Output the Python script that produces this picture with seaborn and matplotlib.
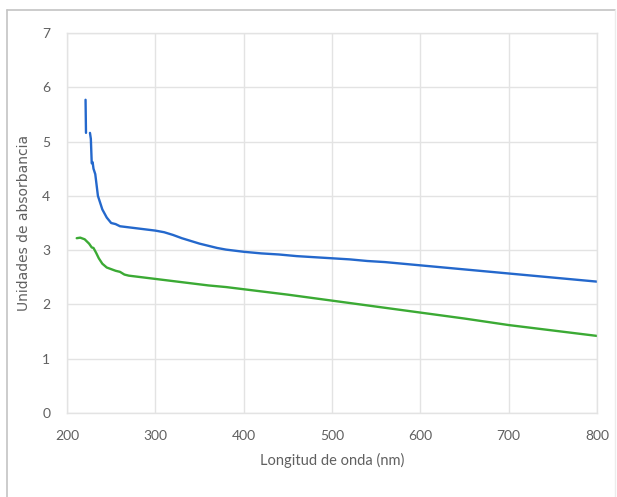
import matplotlib
matplotlib.use("Agg")
import matplotlib.pyplot as plt
from matplotlib.lines import Line2D
import seaborn as sns
import pandas as pd

# --- data ---
blue_spike_nm = [221.0, 221.5]
blue_spike_abs = [5.77, 5.16]

blue_nm = [226, 227, 228, 229, 230, 232, 235, 240, 245, 250, 255, 260, 270, 280, 290,
           300, 310, 320, 330, 340, 350, 360, 370, 380, 390, 400, 420, 440, 460, 480,
           500, 520, 540, 560, 580, 600, 620, 640, 660, 680, 700, 720, 740, 760, 780, 800]
blue_abs = [5.16, 5.05, 4.60, 4.62, 4.50, 4.40, 4.00, 3.75, 3.60, 3.50, 3.48, 3.44, 3.42, 3.40, 3.38,
            3.36, 3.33, 3.28, 3.22, 3.17, 3.12, 3.08, 3.04, 3.01, 2.99, 2.97, 2.94, 2.92, 2.89, 2.87,
            2.85, 2.83, 2.80, 2.78, 2.75, 2.72, 2.69, 2.66, 2.63, 2.60, 2.57, 2.54, 2.51, 2.48, 2.45, 2.42]

green_nm = [211, 215, 220, 225, 228, 230, 233, 236, 240, 245, 250, 255, 260, 265, 270, 280, 290,
            300, 320, 340, 360, 380, 400, 450, 500, 550, 600, 650, 700, 750, 800]
green_abs = [3.22, 3.23, 3.20, 3.12, 3.05, 3.04, 2.95, 2.85, 2.75, 2.68, 2.65, 2.62, 2.60, 2.55, 2.53, 2.51, 2.49,
             2.47, 2.43, 2.39, 2.35, 2.32, 2.28, 2.18, 2.07, 1.96, 1.85, 1.74, 1.62, 1.52, 1.42]

x_ticks = [200, 300, 400, 500, 600, 700, 800]
y_ticks = [0, 1, 2, 3, 4, 5, 6, 7]
x_label = "Longitud de onda (nm)"
y_label = "Unidades de absorbancia"

BLUE = "#2468CC"
GREEN = "#3BAA34"
GRID = "#e3e3e3"
TXT = "#606060"

sns.set_theme(style="white")
plt.rcParams["font.family"] = ["Lato", "DejaVu Sans"]

fig = plt.figure(figsize=(6.17, 4.97), dpi=100)
ax = fig.add_axes([67 / 617, 1 - 413 / 497, (597 - 67) / 617, (413 - 33) / 497])

df_spike = pd.DataFrame({"nm": blue_spike_nm, "abs": blue_spike_abs})
df_blue = pd.DataFrame({"nm": blue_nm, "abs": blue_abs})
df_green = pd.DataFrame({"nm": green_nm, "abs": green_abs})

sns.lineplot(data=df_green, x="nm", y="abs", color=GREEN, lw=1.7, ax=ax, sort=False)
sns.lineplot(data=df_spike, x="nm", y="abs", color=BLUE, lw=1.7, ax=ax, sort=False)
sns.lineplot(data=df_blue, x="nm", y="abs", color=BLUE, lw=1.7, ax=ax, sort=False)

ax.set_xlim(200, 800)
ax.set_ylim(0, 7)
ax.set_xticks(x_ticks)
ax.set_yticks(y_ticks)
ax.grid(True, color=GRID, lw=1.0)
ax.set_axisbelow(True)
for s in ax.spines.values():
    s.set_color(GRID)
    s.set_linewidth(1.0)
ax.tick_params(axis="both", length=0, pad=12, labelsize=10, labelcolor=TXT)

ax.set_xlabel(x_label, fontsize=10.5, color=TXT, labelpad=8)
ax.set_ylabel(y_label, fontsize=10, color=TXT, labelpad=8, family=["DejaVu Sans"])

# outer chart border (left, top, right)
bc = "#c4c4c4"
fig.add_artist(Line2D([7 / 617, 7 / 617], [0, 1 - 10 / 497], transform=fig.transFigure, color=bc, lw=1.2))
fig.add_artist(Line2D([7 / 617, 615 / 617], [1 - 10 / 497, 1 - 10 / 497], transform=fig.transFigure, color=bc, lw=1.2))
fig.add_artist(Line2D([615 / 617, 615 / 617], [0, 1 - 10 / 497], transform=fig.transFigure, color="#ececec", lw=1.0))

fig.savefig("out.png", dpi=100)
